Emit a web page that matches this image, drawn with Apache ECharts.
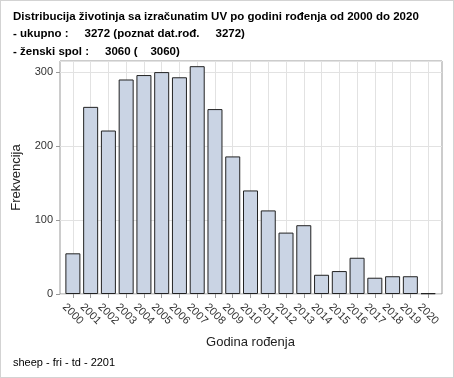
<!DOCTYPE html>
<html>
<head>
<meta charset="utf-8">
<script src="https://cdn.jsdelivr.net/npm/echarts@6/dist/echarts.min.js"></script>
<style>
  html, body { margin: 0; padding: 0; background: #fff; }
  #chart { width: 452px; height: 376px; border: 1px solid #d3d3d3; }
</style>
</head>
<body>
<div id="chart"></div>
<script>
const godine = ["2000", "2001", "2002", "2003", "2004", "2005", "2006", "2007", "2008", "2009", "2010",
  "2011", "2012", "2013", "2014", "2015", "2016", "2017", "2018", "2019", "2020"];
const frekvencija = [55, 253, 221, 290, 296, 300, 293, 308, 250, 186, 140,
  113, 83, 93, 26, 31, 49, 22, 24, 24, 1];
const yTicks = [0, 100, 200, 300];

const naslov = [
  "Distribucija životinja sa izračunatim UV po godini rođenja od 2000 do 2020",
  "- ukupno :     3272 (poznat dat.rođ.     3272)",
  "- ženski spol :     3060 (    3060)"
];
const podnozje = "sheep - fri - td - 2201";

const font = "Arial, 'Liberation Sans', sans-serif";
const yMax = 315;

const chart = echarts.init(document.getElementById("chart"));

const option = {
  animation: false,
  textStyle: { fontFamily: font },
  title: [
    {
      text: naslov.join("\n"),
      left: 7,
      top: 2,
      textStyle: { fontSize: 11.5, fontWeight: "bold", color: "#000", lineHeight: 17.5, fontFamily: font }
    },
    {
      text: podnozje,
      left: 7,
      top: 351,
      textStyle: { fontSize: 11, fontWeight: "normal", color: "#000", fontFamily: font }
    }
  ],
  grid: [
    // frame + horizontal grid
    { left: 59, top: 60, width: 382, height: 233, show: true, borderColor: "#999", borderWidth: 1, backgroundColor: "transparent" },
    // bars
    { left: 63, top: 60, width: 373, height: 233 }
  ],
  xAxis: [
    { gridIndex: 0, type: "value", min: 0, max: 1, show: false },
    {
      gridIndex: 1,
      type: "category",
      data: godine,
      name: "Godina rođenja",
      nameLocation: "middle",
      nameGap: 42,
      nameTextStyle: { fontSize: 13, color: "#222", fontFamily: font },
      axisLine: { show: false },
      axisTick: { show: true, alignWithLabel: true, interval: 0, length: 4, lineStyle: { color: "#999" } },
      axisLabel: {
        rotate: -45, fontSize: 11, color: "#333", margin: 20, interval: 0,
        align: "center", verticalAlign: "middle", fontFamily: font
      },
      splitLine: { show: true, alignWithLabel: true, interval: 0, lineStyle: { color: "#e2e2e2", width: 1 } }
    }
  ],
  yAxis: [
    {
      gridIndex: 0,
      type: "value",
      min: 0,
      max: yMax,
      interval: 100,
      name: "Frekvencija",
      nameLocation: "middle",
      nameGap: 37,
      nameTextStyle: { fontSize: 13, color: "#222", fontFamily: font },
      axisLine: { show: false },
      axisTick: { show: true, length: 4, lineStyle: { color: "#999" } },
      axisLabel: {
        fontSize: 11, color: "#333", margin: 7, fontFamily: font,
        showMaxLabel: false,
        formatter: v => (yTicks.includes(v) ? String(v) : "")
      },
      splitLine: { show: true, lineStyle: { color: "#e2e2e2", width: 1 } }
    },
    { gridIndex: 1, type: "value", min: 0, max: yMax, show: false }
  ],
  series: [
    {
      type: "bar",
      xAxisIndex: 1,
      yAxisIndex: 1,
      data: frekvencija,
      barWidth: 15,
      itemStyle: { color: "#cad4e4", borderColor: "#222", borderWidth: 1 }
    }
  ]
};

chart.setOption(option);
</script>
</body>
</html>
